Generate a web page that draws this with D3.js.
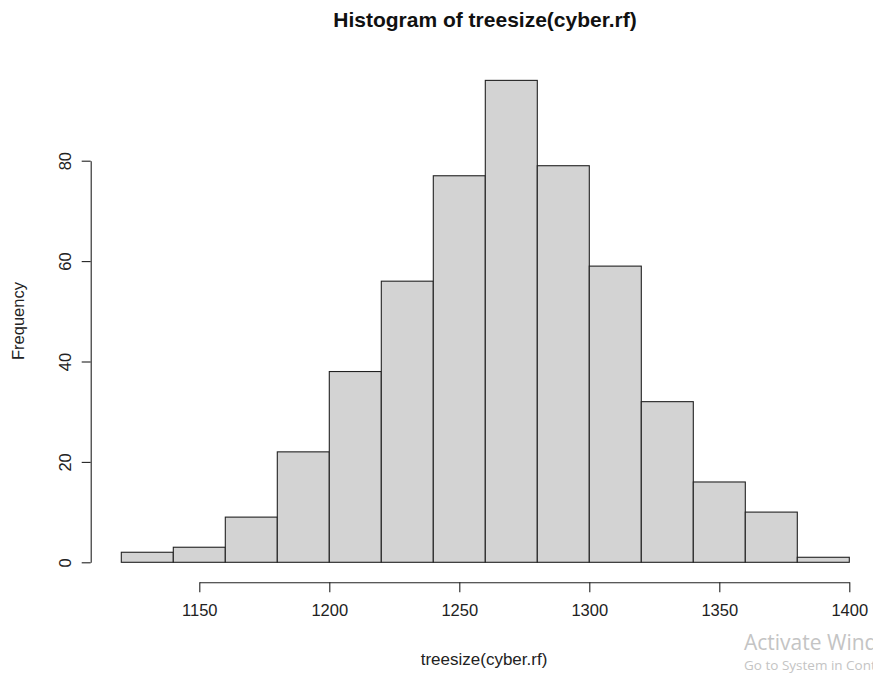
<!DOCTYPE html>
<html>
<head>
<meta charset="utf-8">
<script src="https://cdn.jsdelivr.net/npm/d3@7/dist/d3.min.js"></script>
<style>
  html, body { margin: 0; padding: 0; background: #fff; }
  svg { display: block; }
  text { font-family: "Liberation Sans", Arial, sans-serif; }
</style>
</head>
<body>
<svg id="chart" width="873" height="675"></svg>
<script>
// Bin edges (lower bounds) of treesize(cyber.rf) and the counts in each bin
const binStarts = [1120, 1140, 1160, 1180, 1200, 1220, 1240, 1260, 1280, 1300, 1320, 1340, 1360, 1380];
const binWidth = 20;
const counts = [2, 3, 9, 22, 38, 56, 77, 96, 79, 59, 32, 16, 10, 1];
const xTicks = [1150, 1200, 1250, 1300, 1350, 1400];
const yTicks = [0, 20, 40, 60, 80];

const svg = d3.select("#chart");

const x = d3.scaleLinear().domain([1150, 1400]).range([199.3, 849.3]);
const y = d3.scaleLinear().domain([0, 80]).range([562.3, 160.7]);

// Bars
svg.append("g")
  .selectAll("rect")
  .data(binStarts.map((s, i) => ({ s, c: counts[i] })))
  .join("rect")
  .attr("x", d => x(d.s))
  .attr("y", d => y(d.c))
  .attr("width", d => x(d.s + binWidth) - x(d.s))
  .attr("height", d => y(0) - y(d.c))
  .attr("fill", "#d3d3d3")
  .attr("stroke", "#222")
  .attr("stroke-width", 1.1);

// X axis (R-style: line spans the tick range only)
const xAxis = svg.append("g")
  .attr("transform", `translate(0,582.3)`)
  .call(d3.axisBottom(x).tickValues(xTicks).tickSize(10).tickPadding(12).tickFormat(d3.format("d")).tickSizeOuter(0));
xAxis.select(".domain").attr("stroke", "#222").attr("stroke-width", 1.1);
xAxis.selectAll(".tick line").attr("stroke", "#222").attr("stroke-width", 1.1);
xAxis.selectAll(".tick text")
  .attr("fill", "#222")
  .style("font-size", "16.5px")
  .style("font-family", "'Liberation Sans', Arial, sans-serif");

// Y axis with rotated labels
const yAxis = svg.append("g")
  .attr("transform", `translate(90.7,0)`)
  .call(d3.axisLeft(y).tickValues(yTicks).tickSize(9).tickSizeOuter(0).tickFormat(d3.format("d")));
yAxis.select(".domain").attr("stroke", "#222").attr("stroke-width", 1.1);
yAxis.selectAll(".tick line").attr("stroke", "#222").attr("stroke-width", 1.1);
yAxis.selectAll(".tick text")
  .attr("fill", "#222")
  .attr("x", null).attr("dy", null)
  .attr("text-anchor", "middle")
  .attr("transform", "translate(-25,0) rotate(-90)")
  .attr("dy", "0.35em")
  .style("font-size", "16.5px")
  .style("font-family", "'Liberation Sans', Arial, sans-serif");

// Titles
svg.append("text")
  .attr("x", 485).attr("y", 27)
  .attr("text-anchor", "middle")
  .attr("font-weight", "bold")
  .attr("font-size", 21)
  .attr("fill", "#111")
  .text("Histogram of treesize(cyber.rf)");

svg.append("text")
  .attr("x", 484).attr("y", 665)
  .attr("text-anchor", "middle")
  .attr("font-size", 17)
  .attr("fill", "#222")
  .text("treesize(cyber.rf)");

svg.append("text")
  .attr("transform", "translate(24,321) rotate(-90)")
  .attr("text-anchor", "middle")
  .attr("font-size", 16.5)
  .attr("fill", "#222")
  .text("Frequency");

// Windows activation overlay text
svg.append("text")
  .attr("x", 744).attr("y", 650)
  .attr("font-size", 21)
  .attr("fill", "#c4c4c4")
  .style("font-family", "'Open Sans', 'Noto Sans', sans-serif")
  .text("Activate Windows");
svg.append("text")
  .attr("x", 744).attr("y", 670)
  .attr("font-size", 13.5)
  .attr("fill", "#c4c4c4")
  .style("font-family", "'Open Sans', 'Noto Sans', sans-serif")
  .text("Go to System in Control Panel to activate Windows.");
</script>
</body>
</html>
